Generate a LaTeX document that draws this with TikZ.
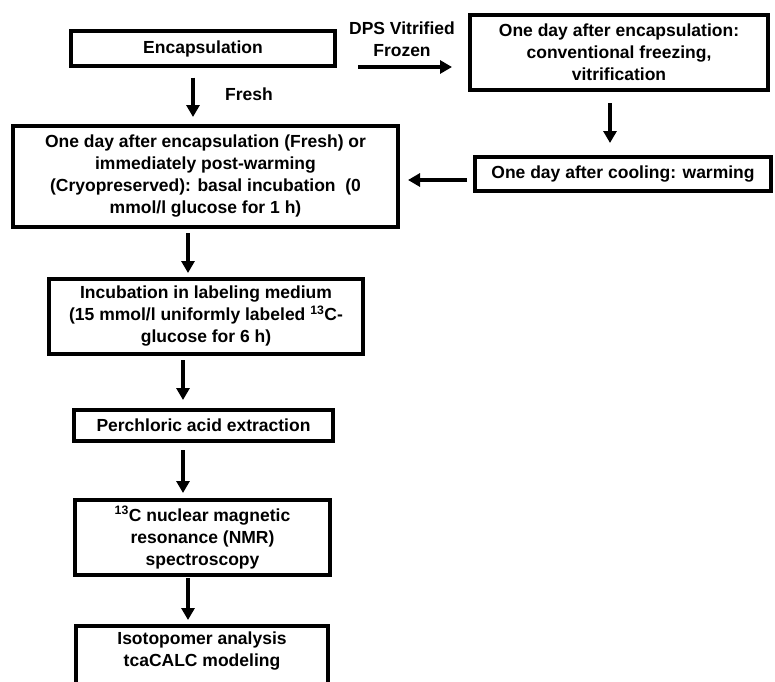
\documentclass[tikz,border=0pt]{standalone}
\usepackage{fontspec}
\setmainfont{Liberation Sans}
\usetikzlibrary{arrows.meta}
\begin{document}
\begin{tikzpicture}[x=1pt,y=-1pt,
  box/.style={draw, line width=4pt, inner sep=0pt, align=center},
  txt/.style={align=center, inner sep=0pt, font=\bfseries\fontsize{17.5}{22}\selectfont},
  arr/.style={line width=3.5pt, -{Triangle[width=13pt,length=12pt]}}]
\useasboundingbox[fill=white] (0,0) rectangle (775,681);
% boxes
\node[box,txt,minimum width=264pt,minimum height=35pt] (enc) at (203,48.5) {Encapsulation};
\node[box,txt,minimum width=298pt,minimum height=75pt] (frz) at (619,52.5) {One day after encapsulation:\\conventional freezing,\\vitrification};
\node[box,txt,minimum width=385pt,minimum height=101pt] (fresh) at (205.5,176.5) {One day after encapsulation (Fresh) or\\immediately post-warming\\(Cryopreserved): basal incubation\ \ (0\\mmol/l glucose for 1 h)};
\node[box,txt,minimum width=296pt,minimum height=34pt] (warm) at (623,174) {One day after cooling: warming};
\node[box,txt,minimum width=314pt,minimum height=75pt] (inc) at (206,316.5) {Incubation in labeling medium\\(15 mmol/l uniformly labeled \textsuperscript{13}C-\\glucose for 6 h)};
\node[box,txt,minimum width=259pt,minimum height=31pt] (perc) at (203.5,425.5) {Perchloric acid extraction};
\node[box,txt,minimum width=255pt,minimum height=75pt] (nmr) at (202.5,537.5) {\textsuperscript{13}C nuclear magnetic\\resonance (NMR)\\spectroscopy};
\node[box,minimum width=252pt,minimum height=74pt] (isobox) at (202,663) {};
\node[txt] (iso) at (202,651) {Isotopomer analysis\\tcaCALC modeling};
% labels
\node[txt] (lfresh) at (249,94) {Fresh};
\node[txt] (ldps) at (402,39) {DPS Vitrified\\Frozen};
% helper coordinates
\coordinate (x193) at (193,0);
\coordinate (x188) at (188,0);
\coordinate (x183) at (183,0);
\coordinate (x610) at (610,0);
\coordinate (y67) at (0,67);
\coordinate (y180) at (0,180);
% arrows
\draw[arr] ([yshift=-9.5pt]enc.south -| x193) -- ([yshift=7pt]fresh.north -| x193);
\draw[arr] ([xshift=21pt]enc.east |- y67) -- ([xshift=-16pt]frz.west |- y67);
\draw[arr] ([yshift=-11pt]frz.south -| x610) -- ([yshift=12pt]warm.north -| x610);
\draw[arr] ([xshift=-6pt]warm.west |- y180) -- ([xshift=8pt]fresh.east |- y180);
\draw[arr] ([yshift=-4pt]fresh.south -| x188) -- ([yshift=4pt]inc.north -| x188);
\draw[arr] ([yshift=-4pt]inc.south -| x183) -- ([yshift=8pt]perc.north -| x183);
\draw[arr] ([yshift=-7pt]perc.south -| x183) -- ([yshift=5pt]nmr.north -| x183);
\draw[arr] ([yshift=-1pt]nmr.south -| x188) -- ([yshift=4pt]isobox.north -| x188);
\end{tikzpicture}
\end{document}
